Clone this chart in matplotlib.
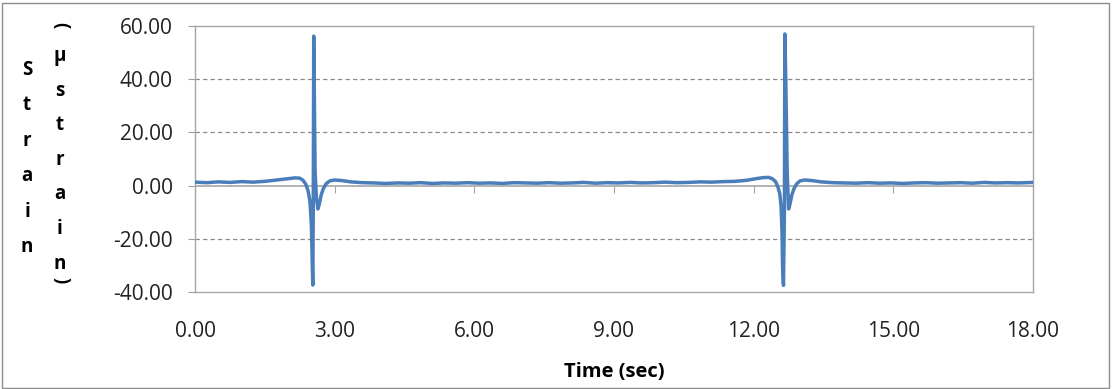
import matplotlib.pyplot as plt
from matplotlib.patches import Rectangle

# strain trace (time in sec, strain in microstrain)
time_sec = [
    0.00, 0.25, 0.50, 0.75, 1.00, 1.25, 1.50, 1.75, 2.00, 2.15, 2.25, 2.32,
    2.38, 2.43, 2.47, 2.50, 2.52, 2.53, 2.54, 2.55, 2.56, 2.58, 2.61, 2.64,
    2.67, 2.71, 2.76, 2.82, 2.90, 3.00, 3.15, 3.35, 3.60, 3.85, 4.10, 4.35,
    4.60, 4.85, 5.10, 5.35, 5.60, 5.85, 6.10, 6.35, 6.60, 6.85, 7.10, 7.35,
    7.60, 7.85, 8.10, 8.35, 8.60, 8.85, 9.10, 9.35, 9.60, 9.85, 10.10, 10.35,
    10.60, 10.85, 11.10, 11.35, 11.60, 11.85, 12.05, 12.20, 12.32, 12.40,
    12.47, 12.52, 12.56, 12.59, 12.61, 12.62, 12.64, 12.66, 12.67, 12.69,
    12.72, 12.75, 12.78, 12.82, 12.87, 12.93, 13.00, 13.10, 13.25, 13.45,
    13.70, 13.95, 14.20, 14.45, 14.70, 14.95, 15.20, 15.45, 15.70, 15.95,
    16.20, 16.45, 16.70, 16.95, 17.20, 17.45, 17.70, 18.00,
]
strain = [
    1.3, 1.1, 1.4, 1.2, 1.5, 1.3, 1.6, 2.1, 2.6, 2.9, 2.8, 2.0,
    0.5, -2.0, -6.0, -15.0, -30.0, -37.4, -10.0, 56.2, 40.0, 5.0, -5.0, -8.8,
    -7.0, -3.5, -1.0, 0.8, 1.8, 2.1, 1.9, 1.4, 1.1, 1.0, 0.8, 1.0,
    0.9, 1.1, 0.8, 1.0, 0.9, 1.1, 0.9, 1.0, 0.8, 1.1, 1.0, 0.9,
    1.1, 0.9, 1.0, 1.2, 0.9, 1.1, 1.0, 1.2, 1.0, 1.1, 1.3, 1.1,
    1.2, 1.4, 1.3, 1.5, 1.6, 2.0, 2.6, 3.0, 3.1, 2.6,
    1.5, -0.5, -3.0, -8.0, -18.0, -30.0, -37.5, -10.0, 57.0, 40.0,
    5.0, -8.8, -7.0, -3.5, -1.0, 0.8, 1.8, 2.1, 1.9, 1.4,
    1.1, 1.0, 0.9, 1.1, 0.9, 1.0, 0.8, 1.0, 1.1, 0.9,
    1.0, 1.1, 0.9, 1.2, 1.0, 1.1, 1.0, 1.2,
]

x_ticks = [0, 3, 6, 9, 12, 15, 18]
y_ticks = [-40, -20, 0, 20, 40, 60]

W, H = 1112, 389
fig = plt.figure(figsize=(W / 100, H / 100), dpi=100)
plt.rcParams['font.family'] = ['Open Sans', 'DejaVu Sans']

ax = fig.add_axes([195 / W, 1 - 292 / H, 838 / W, 266 / H])
ax.plot(time_sec, strain, color='#4a7ebb', lw=2.5, zorder=3,
        solid_joinstyle='round')

ax.set_xlim(0, 18)
ax.set_ylim(-40, 60)
ax.set_xticks(x_ticks)
ax.set_xticklabels([f"{v:.2f}" for v in x_ticks], fontsize=15, color='#222222')
ax.set_yticks(y_ticks)
ax.set_yticklabels([f"{v:.2f}" for v in y_ticks], fontsize=15, color='#222222')
ax.tick_params(axis='x', length=0, pad=21)
ax.tick_params(axis='y', length=5, color='#9a9a9a', pad=11)

for y in [-20, 20, 40]:
    ax.axhline(y, color='#8a8a8a', lw=0.9, ls=(0, (3.5, 2.5)), zorder=1)
ax.axhline(0, color='#a6a6a6', lw=1.2, zorder=2)

# tick marks on the zero line
sec = ax.secondary_xaxis(0.4)
sec.set_xticks(x_ticks[1:-1])
sec.tick_params(length=5, color='#a6a6a6', labelbottom=False, direction='out')
sec.spines['bottom'].set_visible(False)

for s in ax.spines.values():
    s.set_color('#a6a6a6')
    s.set_linewidth(1.0)

ax.set_xlabel("Time (sec)", fontsize=14.5, fontweight='bold', labelpad=14)

# stacked y-axis title
col1 = "Strain"
for i, ch in enumerate(col1):
    fig.text(27 / W, 1 - (75 + 35.4 * i) / H, ch, ha='center', va='baseline',
             fontsize=13.5, fontweight='bold')
col2 = "μstrain"
for i, ch in enumerate(col2):
    fig.text(60 / W, 1 - (61 + 34.6 * i) / H, ch, ha='center', va='baseline',
             fontsize=13.5, fontweight='bold')
fig.text(60 / W, 1 - 25 / H, "(", rotation=-90, ha='center', va='center',
         fontsize=13.5, fontweight='bold')
fig.text(60 / W, 1 - 280 / H, ")", rotation=-90, ha='center', va='center',
         fontsize=13.5, fontweight='bold')

fig.patches.append(Rectangle((2 / W, 1 / H), 1107 / W, 385 / H, fill=False,
                             edgecolor='#8c8c8c', lw=1.0,
                             transform=fig.transFigure))

fig.savefig("out.png", dpi=100, facecolor='white')
